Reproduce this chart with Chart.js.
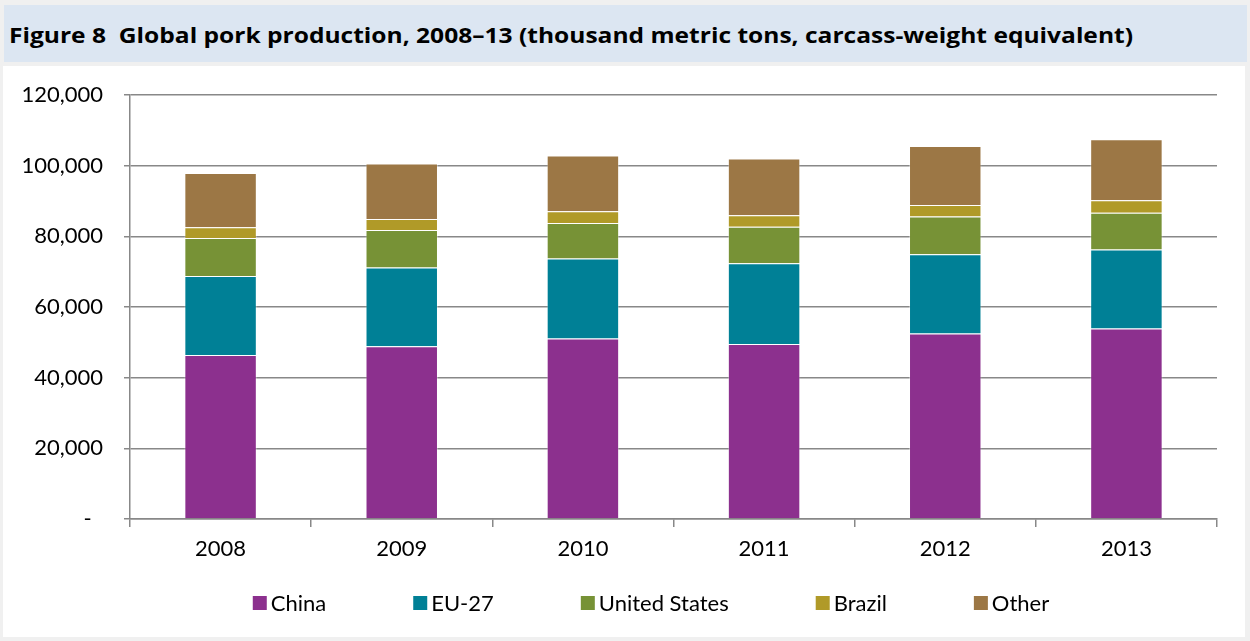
<!DOCTYPE html>
<html>
<head>
<meta charset="utf-8">
<script src="https://cdn.jsdelivr.net/npm/chart.js@4.4.1/dist/chart.umd.min.js"></script>
<style>
    body { margin: 0; background: #f0f0f0; width: 1250px; height: 641px; overflow: hidden; position: relative; font-family: Lato, "Open Sans", sans-serif; }
    #title-box { position: absolute; left: 4px; top: 5px; width: 1243px; height: 57px; background: #dce6f2; }
    #title-box h1 { margin: 0; position: absolute; left: 5px; top: 18px; font-family: "Open Sans", Lato, sans-serif; font-size: 22px; font-weight: bold; color: #000; white-space: pre; line-height: 22px; transform-origin: 0 0; }
    #plot-box { position: absolute; left: 3px; top: 66px; width: 1242px; height: 571px; background: #fff; }
    #chart-wrap { position: absolute; left: 0; top: 0; width: 1250px; height: 641px; }
</style>
</head>
<body>
<div id="title-box"><h1 id="title">Figure 8  Global pork production, 2008–13 (thousand metric tons, carcass-weight equivalent)</h1></div>
<div id="plot-box"></div>
<div id="chart-wrap"><canvas id="pork-chart" width="1250" height="641"></canvas></div>
<script>
const years = ['2008', '2009', '2010', '2011', '2012', '2013'];
const china = [46400, 48900, 51100, 49500, 52500, 53900];
const eu27 = [22400, 22300, 22600, 22900, 22400, 22400];
const unitedStates = [10700, 10600, 10100, 10300, 10700, 10400];
const brazil = [3100, 3100, 3300, 3300, 3300, 3500];
const other = [15300, 15700, 15800, 16000, 16700, 17300];
const yTicks = [0, 20000, 40000, 60000, 80000, 100000, 120000];

const fontFamily = 'Lato, "Open Sans", sans-serif';
const gridColor = '#888888';

// stretch the title to the width it has in the original figure
const titleEl = document.getElementById('title');
titleEl.style.transform = `scaleX(${1124 / titleEl.getBoundingClientRect().width})`;

// legend drawn by hand so the spacing can follow the original
const legendPlugin = {
    id: 'rowLegend',
    afterDraw(chart) {
        const ctx = chart.ctx;
        const boxSize = 14;
        const textGap = 4;
        const itemGap = 87;
        ctx.save();
        ctx.font = `22px ${fontFamily}`;
        ctx.textBaseline = 'middle';
        ctx.textAlign = 'left';
        const items = chart.data.datasets.map(ds => ({
            text: ds.label,
            color: ds.backgroundColor,
            width: boxSize + textGap + ctx.measureText(ds.label).width
        }));
        const total = items.reduce((s, it) => s + it.width, 0) + itemGap * (items.length - 1);
        let x = 651 - total / 2;
        const y = 603;
        items.forEach(it => {
            ctx.fillStyle = it.color;
            ctx.fillRect(x, y - boxSize / 2, boxSize, boxSize);
            ctx.fillStyle = '#000';
            ctx.fillText(it.text, x + boxSize + textGap, y + 1);
            x += it.width + itemGap;
        });
        ctx.restore();
    }
};

const ctx = document.getElementById('pork-chart').getContext('2d');
const chart = new Chart(ctx, {
    type: 'bar',
    data: {
        labels: years,
        datasets: [
            { label: 'China', data: china, backgroundColor: '#8c308e' },
            { label: 'EU-27', data: eu27, backgroundColor: '#008096' },
            { label: 'United States', data: unitedStates, backgroundColor: '#779236' },
            { label: 'Brazil', data: brazil, backgroundColor: '#b09a28' },
            { label: 'Other', data: other, backgroundColor: '#9c7745' },
        ].map(ds => Object.assign(ds, {
            borderColor: 'rgba(255,255,255,0.35)',
            borderWidth: 1,
            barPercentage: 0.4,
            categoryPercentage: 1.0,
        })),
    },
    options: {
        responsive: false,
        animation: false,
        layout: {
            padding: { left: 0, right: 33, top: 95, bottom: 78 },
        },
        plugins: {
            legend: { display: false },
            tooltip: { enabled: false },
        },
        scales: {
            x: {
                stacked: true,
                afterFit: axis => {
                    axis.height = 44;
                },
                grid: {
                    display: true,
                    drawOnChartArea: false,
                    drawTicks: true,
                    tickLength: 8,
                    offset: true,
                    color: gridColor,
                    lineWidth: 1.5,
                },
                border: { display: true, color: gridColor, width: 1.5 },
                ticks: {
                    color: '#000',
                    padding: 9,
                    font: { family: fontFamily, size: 22 },
                },
            },
            y: {
                stacked: true,
                min: 0,
                max: 120000,
                afterBuildTicks: axis => {
                    axis.ticks = yTicks.map(v => ({ value: v }));
                },
                afterFit: axis => {
                    axis.width = 130;
                },
                grid: {
                    color: gridColor,
                    lineWidth: 1.5,
                    drawTicks: true,
                    tickLength: 6,
                },
                border: { display: true, color: gridColor, width: 1.5 },
                ticks: {
                    color: '#000',
                    padding: 21,
                    font: { family: fontFamily, size: 22 },
                    callback: v => v === 0 ? '-  ' : v.toLocaleString('en-US'),
                },
            },
        },
    },
    plugins: [legendPlugin],
});
</script>
</body>
</html>
